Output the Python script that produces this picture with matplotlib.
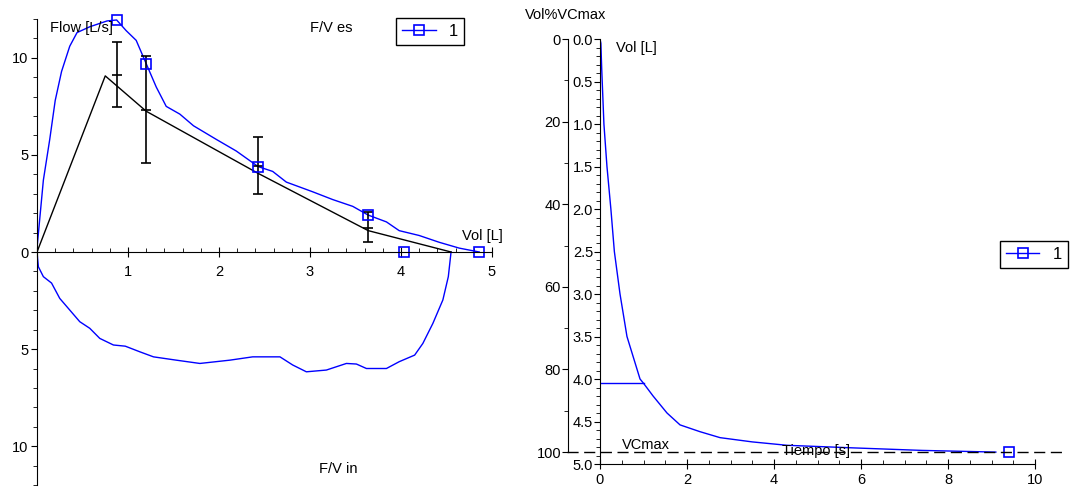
import numpy as np
import matplotlib.pyplot as plt
from matplotlib.ticker import MultipleLocator, FuncFormatter
from matplotlib.lines import Line2D

plt.rcParams['font.family'] = ['Liberation Sans', 'DejaVu Sans']
plt.rcParams['font.size'] = 10.5

BLUE = '#0000ff'

# --- flow/volume, expiration (measured) ---
exp_vol = [0.0, 0.0, 0.07, 0.14, 0.2, 0.27, 0.36, 0.44, 0.58, 0.77, 0.875, 0.98, 1.09, 1.2,
           1.31, 1.42, 1.57, 1.72, 1.97, 2.19, 2.43, 2.59, 2.74, 3.03, 3.25, 3.47, 3.64,
           3.84, 3.98, 4.2, 4.42, 4.64, 4.86]
exp_flow = [0.0, 0.2, 3.7, 5.8, 7.8, 9.3, 10.6, 11.3, 11.6, 11.9, 11.95, 11.4, 10.9, 9.7,
            8.5, 7.5, 7.1, 6.5, 5.8, 5.2, 4.4, 4.15, 3.6, 3.1, 2.7, 2.35, 1.9,
            1.55, 1.1, 0.85, 0.5, 0.2, 0.0]

# --- flow/volume, inspiration (shown below the axis) ---
in_vol = [0.0, 0.015, 0.07, 0.16, 0.25, 0.36, 0.47, 0.58, 0.69, 0.84, 0.97, 1.13, 1.28,
          1.53, 1.79, 2.12, 2.37, 2.67, 2.81, 2.96, 3.18, 3.4, 3.51, 3.62, 3.84, 3.98,
          4.15, 4.24, 4.35, 4.46, 4.52, 4.55]
in_flow = [0.0, 0.76, 1.27, 1.6, 2.39, 2.99, 3.59, 3.93, 4.45, 4.79, 4.85, 5.14, 5.4,
           5.57, 5.74, 5.57, 5.4, 5.4, 5.82, 6.17, 6.08, 5.74, 5.77, 6.0, 6.0, 5.65,
           5.31, 4.71, 3.68, 2.47, 1.27, 0.0]

# markers: PEF, MEF75, MEF50, MEF25, FEV1, FVC
mark_vol = [0.875, 1.2, 2.43, 3.64, 4.03, 4.86]
mark_flow = [11.95, 9.7, 4.4, 1.9, 0.0, 0.0]

# predicted curve and ranges
pred_vol = [0.0, 0.75, 1.2, 2.43, 3.64, 4.55]
pred_flow = [0.0, 9.07, 7.25, 4.05, 1.1, 0.0]
err_vol = [0.875, 1.2, 2.43, 3.64]
err_mid = [9.1, 7.3, 4.45, 1.25]
err_lo = [7.45, 4.57, 2.99, 0.5]
err_hi = [10.8, 10.1, 5.94, 2.08]

# --- volume/time ---
vt_time = [0.0, 0.02, 0.04, 0.09, 0.16, 0.25, 0.33, 0.46, 0.62, 0.92, 1.0, 1.22, 1.54,
           1.84, 2.3, 2.76, 3.5, 4.3, 5.8, 7.4, 9.1]
vt_vol = [0.0, 0.05, 0.36, 1.0, 1.5, 2.0, 2.5, 3.0, 3.5, 4.0, 4.05, 4.2, 4.4,
          4.54, 4.62, 4.69, 4.74, 4.78, 4.81, 4.84, 4.86]
vcmax = 4.86
fev1 = 4.05
end_time = 9.4

W, H = 1070, 490
fig = plt.figure(figsize=(W / 100, H / 100), dpi=100)

# ---------------- left: flow/volume ----------------
ax1 = fig.add_axes([37 / W, 5 / H, 455 / W, 466 / H])
ax1.plot(exp_vol, exp_flow, color=BLUE, lw=1)
ax1.plot(in_vol, [-f for f in in_flow], color=BLUE, lw=1)
ax1.plot(pred_vol, pred_flow, color='black', lw=1)
lo = np.array(err_mid) - np.array(err_lo)
hi = np.array(err_hi) - np.array(err_mid)
ax1.errorbar(err_vol, err_mid, yerr=[lo, hi], fmt='none', ecolor='black',
             elinewidth=1.2, capsize=3.5, capthick=1.2)
ax1.plot(err_vol, err_mid, ls='none', marker='_', color='black', ms=7, mew=1.2)
ax1.plot(mark_vol, mark_flow, ls='none', marker='s', ms=7.5, mfc='none',
         mec=BLUE, mew=1.2, clip_on=False)

ax1.set_xlim(0, 5)
ax1.set_ylim(-12, 12)
for s in ['top', 'right']:
    ax1.spines[s].set_visible(False)
ax1.spines['bottom'].set_position(('data', 0))
ax1.xaxis.set_major_locator(MultipleLocator(1))
ax1.xaxis.set_minor_locator(MultipleLocator(0.2))
ax1.xaxis.set_major_formatter(FuncFormatter(lambda v, p: '' if v == 0 else '%d' % v))
ax1.yaxis.set_major_locator(MultipleLocator(5))
ax1.yaxis.set_minor_locator(MultipleLocator(1))
ax1.yaxis.set_major_formatter(FuncFormatter(lambda v, p: '%d' % abs(v)))
ax1.tick_params(axis='x', which='major', direction='inout', length=7, pad=6)
ax1.tick_params(axis='x', which='minor', direction='in', length=3)
ax1.tick_params(axis='y', which='major', direction='out', length=4, pad=2)
ax1.tick_params(axis='y', which='minor', direction='out', length=3)

ax1.text(0.14, 11.55, 'Flow [L/s]', va='center', ha='left')
ax1.text(3.0, 11.55, 'F/V es', va='center', ha='left')
ax1.text(4.67, 0.82, 'Vol [L]', va='center', ha='left')
ax1.text(3.1, -11.2, 'F/V in', va='center', ha='left')

h = Line2D([], [], color=BLUE, lw=1, marker='s', ms=7.5, mfc='none', mew=1.2)
leg1 = ax1.legend([h], ['1'], loc='lower left', bbox_to_anchor=(0.79, 0.944),
                  fancybox=False, edgecolor='black', framealpha=1, fontsize=12,
                  handlelength=2, borderpad=0.35, borderaxespad=0)
leg1.get_frame().set_linewidth(1)

# ---------------- right: volume/time ----------------
ax2 = fig.add_axes([600 / W, 26 / H, 435 / W, 425 / H])
ax2.plot(vt_time, vt_vol, color=BLUE, lw=1)
ax2.plot([0, 1], [fev1, fev1], color=BLUE, lw=1)
ax2.plot([end_time], [vcmax], ls='none', marker='s', ms=7.5, mfc='none',
         mec=BLUE, mew=1.2, clip_on=False)
ax2.plot([-0.75, 10.7], [vcmax, vcmax], color='black', lw=1, ls=(0, (8, 4)),
         clip_on=False)
ax2.set_xlim(0, 10)
ax2.set_ylim(5.0, 0.0)
for s in ['top', 'right']:
    ax2.spines[s].set_visible(False)
ax2.xaxis.set_major_locator(MultipleLocator(2))
ax2.xaxis.set_minor_locator(MultipleLocator(0.5))
ax2.yaxis.set_major_locator(MultipleLocator(0.5))
ax2.yaxis.set_minor_locator(MultipleLocator(0.1))
ax2.yaxis.set_major_formatter(FuncFormatter(lambda v, p: '%.1f' % v))
ax2.tick_params(axis='x', which='major', direction='inout', length=7, pad=3)
ax2.tick_params(axis='x', which='minor', direction='in', length=3)
ax2.tick_params(axis='y', which='major', direction='out', length=4, pad=1)
ax2.tick_params(axis='y', which='minor', direction='out', length=3)

ax2.text(0.37, 0.1, 'Vol [L]', va='center', ha='left')
ax2.text(0.5, 4.78, 'VCmax', va='center', ha='left')
ax2.text(4.18, 4.85, 'Tiempo [s]', va='center', ha='left')

# outer percent axis
ax3 = ax2.twinx()
ax3.set_ylim(5.0 / vcmax * 100, 0)
for s in ['top', 'right', 'bottom']:
    ax3.spines[s].set_visible(False)
ax3.spines['left'].set_visible(True)
ax3.spines['left'].set_position(('axes', -32 / 435))
ax3.spines['left'].set_bounds(0, 100)
ax3.yaxis.set_ticks_position('left')
ax3.yaxis.set_major_locator(MultipleLocator(20))
ax3.yaxis.set_minor_locator(MultipleLocator(10))
ax3.tick_params(axis='y', which='major', direction='out', length=4, pad=1)
ax3.tick_params(axis='y', which='minor', direction='out', length=3)
fig.text(525 / W, 1 - 15 / H, 'Vol%VCmax', va='center', ha='left')

h2 = Line2D([], [], color=BLUE, lw=1, marker='s', ms=7.5, mfc='none', mew=1.2)
leg2 = ax2.legend([h2], ['1'], loc='lower left', bbox_to_anchor=(0.92, 0.461),
                  fancybox=False, edgecolor='black', framealpha=1, fontsize=12,
                  handlelength=2, borderpad=0.35, borderaxespad=0)
leg2.get_frame().set_linewidth(1)

fig.savefig('out.png', dpi=100)
